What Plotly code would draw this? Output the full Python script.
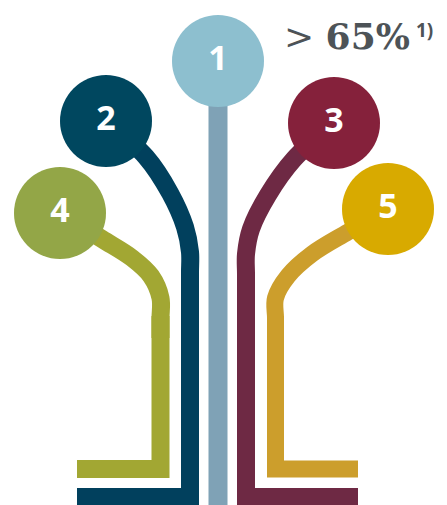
import plotly.graph_objects as go

# --- data (pixel-space layout of the infographic) ---
labels = ["1", "2", "3", "4", "5"]
circle_x = [218, 106, 334, 60, 388]
circle_y = [61, 121, 123, 213, 209]
circle_colors = ["#8DBFCF", "#00475F", "#85213B", "#93A647", "#D8AA00"]
stem_colors = ["#7FA2B6", "#01405D", "#6E2944", "#A2A733", "#CC9E2C"]

# curved upper parts (spline through waypoints) per stem 2..5
curve_x = {
    "2": [106, 146, 170, 185, 190, 190, 190],
    "3": [334, 294, 268, 251, 246, 246, 246],
    "4": [60, 102, 132, 151, 160.5, 160.5, 160.5],
    "5": [388, 348, 312, 288, 275.5, 275.5, 275.5],
}
curve_y = {
    "2": [121, 157, 193, 227, 252, 272, 292],
    "3": [123, 159, 195, 229, 254, 274, 294],
    "4": [213, 239, 258, 276, 298, 318, 338],
    "5": [209, 232, 254, 276, 298, 318, 338],
}
# straight lower parts (vertical down, then horizontal out)
leg_x = {
    "1": [218, 218],
    "2": [190, 190, 77],
    "3": [246, 246, 358],
    "4": [160.5, 160.5, 77],
    "5": [275.5, 275.5, 358],
}
leg_y = {
    "1": [61, 520],
    "2": [270, 497, 497],
    "3": [272, 497, 497],
    "4": [316, 469, 469],
    "5": [316, 469, 469],
}
stem_widths = {"1": 19, "2": 18, "3": 18, "4": 18, "5": 17}

headline_sign = ">"
headline_value = "65%"
footnote = "1)"

fig = go.Figure()

for i, lab in enumerate(labels):
    col = stem_colors[i]
    if lab in curve_x:
        fig.add_trace(go.Scatter(
            x=curve_x[lab], y=curve_y[lab], mode="lines",
            line=dict(color=col, width=stem_widths[lab], shape="spline", smoothing=1.0),
            hoverinfo="skip", showlegend=False))
    fig.add_trace(go.Scatter(
        x=leg_x[lab], y=leg_y[lab], mode="lines",
        line=dict(color=col, width=stem_widths[lab]),
        hoverinfo="skip", showlegend=False))

fig.add_trace(go.Scatter(
    x=circle_x, y=circle_y, mode="markers+text",
    marker=dict(size=92, color=circle_colors, line=dict(width=0), opacity=1),
    text=labels, textposition="middle center",
    textfont=dict(family="Open Sans", size=34, color="white", weight="bold"),
    hoverinfo="skip", showlegend=False))

fig.add_annotation(x=282, y=36, xref="x", yref="y",
                   text=f"{headline_sign} <b>{headline_value}</b>",
                   showarrow=False, xanchor="left", yanchor="middle",
                   font=dict(family="DejaVu Serif", size=36, color="#4D5357"))
fig.add_annotation(x=414, y=30, xref="x", yref="y", text=footnote,
                   showarrow=False, xanchor="left", yanchor="middle",
                   font=dict(family="Open Sans", size=19, color="#4D5357", weight="bold"))

fig.update_layout(
    width=447, height=505,
    margin=dict(l=0, r=0, t=0, b=0),
    paper_bgcolor="white", plot_bgcolor="white",
    xaxis=dict(range=[0, 447], visible=False, fixedrange=True),
    yaxis=dict(range=[505, 0], visible=False, fixedrange=True),
)

fig.write_html("out.html", config={"staticPlot": True},
               post_script="document.body.style.margin='0';")
